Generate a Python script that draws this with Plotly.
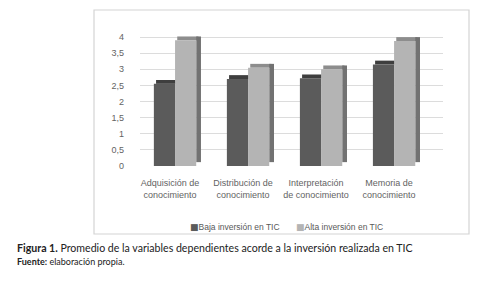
import plotly.graph_objects as go

categories = ["Adquisición de<br>conocimiento", "Distribución de<br>conocimiento",
              "Interpretación<br>de conocimiento", "Memoria de<br>conocimiento"]
baja = [2.55, 2.70, 2.72, 3.15]
alta = [3.90, 3.05, 3.00, 3.88]
series_names = ["Baja inversión en TIC", "Alta inversión en TIC"]
y_tickvals = [0, 0.5, 1, 1.5, 2, 2.5, 3, 3.5, 4, 4.5]
y_ticktext = ["0", "0,5", "1", "1,5", "2", "2,5", "3", "3,5", "4", ""]

# page offset (browser body margin) compensation
OFF = 8
W, H = 478 - OFF, 293 - OFF
X0, X1 = -0.41, 3.74          # category range
L, R = 140.0, 443.0           # plot area pixel x (window coords)
T, B = 21.0, 166.0            # plot area pixel y (window coords)
Y1 = 4.5

def px(x):
    return (x - L) / (R - L)

def py(y):
    return (B - y) / (B - T)

# bar geometry in category units
w = 0.29
o_dark = -0.22
o_light = o_dark + w
cap = 0.12
shift = 0.03
side_w = 0.065

DARK, DARK_TOP = "#5b5b5b", "#3e3e3e"
LIGHT, LIGHT_TOP, LIGHT_SIDE = "#b4b4b4", "#8d8d8d", "#727272"

fig = go.Figure()
fig.add_trace(go.Bar(x=categories, y=[cap] * len(baja), base=baja, offset=o_dark + shift, width=w,
                     marker=dict(color=DARK_TOP, line=dict(width=0)), showlegend=False, hoverinfo="skip"))
fig.add_trace(go.Bar(x=categories, y=baja, name=series_names[0], offset=o_dark, width=w,
                     marker=dict(color=DARK, line=dict(width=0)), showlegend=False))
fig.add_trace(go.Bar(x=categories, y=[cap] * len(alta), base=alta, offset=o_light + shift, width=w,
                     marker=dict(color=LIGHT_TOP, line=dict(width=0)), showlegend=False, hoverinfo="skip"))
fig.add_trace(go.Bar(x=categories, y=alta, base=cap, offset=o_light + w, width=side_w,
                     marker=dict(color=LIGHT_SIDE, line=dict(width=0)), showlegend=False, hoverinfo="skip"))
fig.add_trace(go.Bar(x=categories, y=alta, name=series_names[1], offset=o_light, width=w,
                     marker=dict(color=LIGHT, line=dict(width=0)), showlegend=False))

sq = "font-family:DejaVu Sans;font-size:9px"

fig.update_layout(
    width=W, height=H,
    margin=dict(l=L - OFF, r=W - (R - OFF), t=T - OFF, b=H - (B - OFF), pad=0),
    paper_bgcolor="white", plot_bgcolor="white",
    barmode="overlay",
    font=dict(family="Liberation Sans", size=9, color="#595959"),
    showlegend=False,
    xaxis=dict(range=[X0, X1], showgrid=False, zeroline=False, showline=False,
               ticks="", tickfont=dict(size=9, color="#636363"), ticklabelstandoff=10),
    yaxis=dict(range=[0, Y1], tickvals=y_tickvals, ticktext=y_ticktext,
               showgrid=True, gridcolor="#dcdcdc", gridwidth=1, zeroline=False,
               showline=False, ticks="", ticklabelstandoff=15,
               tickfont=dict(size=9, color="#636363")),
    shapes=[dict(type="rect", xref="paper", yref="paper",
                 x0=px(94), x1=px(469), y0=py(10), y1=py(234),
                 line=dict(color="#d4d4d4", width=1.2), fillcolor="rgba(0,0,0,0)", layer="below")],
    annotations=[
        dict(xref="paper", yref="paper", x=px(188), y=py(227), xanchor="left", yanchor="middle",
             showarrow=False,
             text=f"<span style='color:{DARK};{sq}'>■</span>{series_names[0]}",
             font=dict(size=8.5, color="#595959")),
        dict(xref="paper", yref="paper", x=px(294), y=py(227), xanchor="left", yanchor="middle",
             showarrow=False,
             text=f"<span style='color:{LIGHT};{sq}'>■</span>{series_names[1]}",
             font=dict(size=8.5, color="#595959")),
        dict(xref="paper", yref="paper", x=px(15), y=py(248), xanchor="left", yanchor="middle",
             showarrow=False, align="left",
             text="<b>Figura 1.</b> Promedio de la variables dependientes acorde a la inversión realizada en TIC",
             font=dict(family="Lato", size=10.6, color="#222222")),
        dict(xref="paper", yref="paper", x=px(15), y=py(261), xanchor="left", yanchor="middle",
             showarrow=False, align="left",
             text="<b>Fuente:</b> elaboración propia.",
             font=dict(family="Lato", size=9, color="#222222")),
    ],
)

fig.write_html("out.html")
